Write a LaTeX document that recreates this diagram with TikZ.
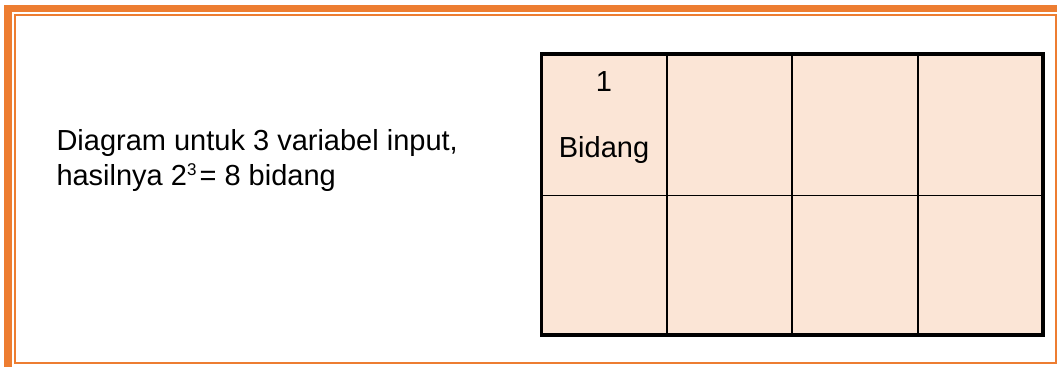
\documentclass[tikz,border=0pt]{standalone}
\usepackage{fontspec}
\setmainfont{Liberation Sans}
\definecolor{frameorange}{HTML}{ED7D31}
\definecolor{cellfill}{HTML}{FBE5D6}
\tikzset{
  txt/.style={inner sep=0pt, outer sep=0pt, font=\fontsize{29}{35}\selectfont},
  thickbar/.style={fill=frameorange, draw=none},
  thinframe/.style={draw=frameorange, line width=2pt},
  gridline/.style={draw=black, line width=1.8pt},
  gridframe/.style={draw=black, line width=3.6pt},
}
\begin{document}
\begin{tikzpicture}[x=1pt,y=-1pt]
\useasboundingbox (0,0) rectangle (1057,367);
% orange frame
\fill[thickbar] (4,5) rectangle (1057,12);
\fill[thickbar] (4,5) rectangle (12,367);
\draw[thinframe] (15.3,15) rectangle (1056,362.7);
% text
\node[txt, anchor=base west] (line1) at (56.5,150) {Diagram untuk 3 variabel input,};
\node[txt, anchor=base west] (line2) at (56.5,185) {hasilnya 2\raisebox{9.3pt}{\fontsize{17}{17}\selectfont 3}\hspace{3pt}= 8 bidang};
% grid
\fill[cellfill] (541.5,54) rectangle (1043,335);
\foreach \x in {666.9,792.3,917.6} \draw[gridline] (\x,54) -- (\x,335);
\draw[gridline] (541.5,195.5) -- (1043,195.5);
\draw[gridframe] (541.5,54) rectangle (1043,335);
\node[txt, anchor=base] (one) at (604,91.7) {1};
\node[txt, anchor=base] (bidang) at (604,157.3) {Bidang};
\end{tikzpicture}
\end{document}
